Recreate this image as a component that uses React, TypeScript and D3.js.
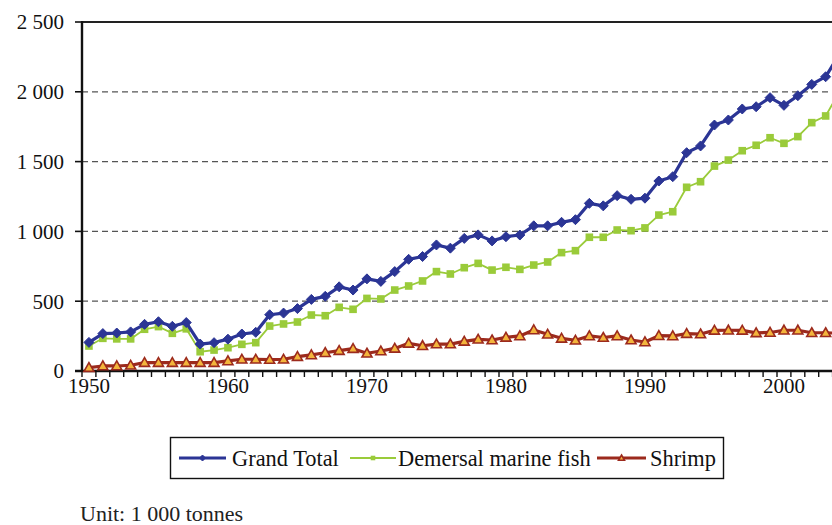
import React from "react";
import * as d3 from "d3";

const years: number[] = d3.range(1950, 2005);
const grandTotal: number[] = [
  205, 268, 272, 280, 334, 353, 320, 347, 193, 203,
  228, 265, 277, 403, 415, 447, 513, 535, 603, 580,
  660, 642, 712, 800, 820, 903, 880, 950, 975, 932,
  962, 974, 1040, 1040, 1065, 1084, 1201, 1183, 1256, 1230,
  1238, 1361, 1392, 1564, 1612, 1762, 1798, 1877, 1893, 1958,
  1903, 1972, 2053, 2108, 2270,
];
const demersal: number[] = [
  179, 234, 230, 230, 299, 318, 270, 302, 138, 150,
  167, 191, 203, 322, 337, 351, 401, 396, 456, 442,
  520, 516, 580, 609, 645, 712, 695, 740, 771, 723,
  743, 728, 759, 781, 848, 862, 958, 958, 1010, 1005,
  1025, 1117, 1141, 1316, 1356, 1468, 1511, 1578, 1617, 1671,
  1631, 1679, 1779, 1827, 2000,
];
const shrimp: number[] = [
  24, 36, 36, 41, 60, 60, 60, 60, 60, 60,
  72, 84, 84, 82, 84, 103, 115, 131, 146, 160,
  127, 143, 162, 198, 181, 193, 193, 212, 227, 222,
  241, 251, 294, 263, 234, 220, 251, 240, 251, 222,
  208, 253, 251, 268, 265, 291, 292, 291, 273, 276,
  292, 292, 274, 274, 270,
];
const yTicks: number[] = [0, 500, 1000, 1500, 2000, 2500];
const xLabelYears: number[] = [1950, 1960, 1970, 1980, 1990, 2000];
const seriesNames: string[] = ["Grand Total", "Demersal marine fish", "Shrimp"];

const W = 832;
const H = 525;
const left = 82;
const top = 22;
const bottom = 371;
const step = 13.9;
const right = left + step * years.length;

const BLUE = "#2b3595";
const GREEN = "#9acb3a";
const RED = "#9c2a1d";
const ORANGE = "#f3b53c";
const FONT = "'Liberation Serif', 'Times New Roman', serif";

const fmt = (v: number) => {
  const s = String(v);
  return s.length > 3 ? s.slice(0, s.length - 3) + " " + s.slice(-3) : s;
};

function Marker({ type, x, y, s = 1 }: { type: string; x: number; y: number; s?: number }) {
  if (type === "diamond") {
    const r = 5 * s;
    return <path d={`M${x},${y - r}L${x + r},${y}L${x},${y + r}L${x - r},${y}Z`} fill={BLUE} stroke={BLUE} strokeWidth={1} />;
  }
  if (type === "square") {
    const r = 3.8 * s;
    return <rect x={x - r} y={y - r} width={2 * r} height={2 * r} fill={GREEN} />;
  }
  const r = 5 * s;
  return (
    <path
      d={`M${x},${y - r}L${x + r},${y + r * 0.75}L${x - r},${y + r * 0.75}Z`}
      fill={ORANGE}
      stroke={RED}
      strokeWidth={1.6}
      strokeLinejoin="miter"
    />
  );
}

export default function App() {
  const x = d3.scaleBand<number>().domain(years).range([left, right]).padding(0);
  const cx = (yr: number) => (x(yr) as number) + x.bandwidth() / 2;
  const y = d3.scaleLinear().domain([0, 2500]).range([bottom, top]);

  const line = d3
    .line<number>()
    .x((_, i) => cx(years[i]))
    .y((v) => y(v));

  const series = [
    { name: seriesNames[0], data: grandTotal, color: BLUE, width: 3.2, marker: "diamond" },
    { name: seriesNames[1], data: demersal, color: GREEN, width: 1.8, marker: "square" },
    { name: seriesNames[2], data: shrimp, color: RED, width: 3.2, marker: "triangle" },
  ];
  const drawOrder = [series[2], series[1], series[0]];

  return (
    <svg width={W} height={H} style={{ position: "absolute", left: 0, top: 0, background: "#fff" }} fontFamily={FONT}>
      <rect x={0} y={0} width={W} height={H} fill="#fff" />
      {/* gridlines */}
      {yTicks.filter((t) => t > 0 && t < 2500).map((t) => (
        <line key={t} x1={left} x2={right} y1={y(t)} y2={y(t)} stroke="#555" strokeWidth={1.3} strokeDasharray="6 4" />
      ))}
      {/* top border */}
      <line x1={left} x2={right} y1={y(2500)} y2={y(2500)} stroke="#222" strokeWidth={2.2} />
      {/* y axis */}
      <line x1={left} x2={left} y1={top - 1} y2={bottom} stroke="#111" strokeWidth={2.4} />
      {yTicks.map((t) => (
        <g key={t}>
          <line x1={left - 7} x2={left} y1={y(t)} y2={y(t)} stroke="#111" strokeWidth={1.6} />
          <text x={64} y={y(t)} dy="0.35em" textAnchor="end" fontSize={21} fill="#111">
            {fmt(t)}
          </text>
        </g>
      ))}
      {/* x axis */}
      <line x1={left - 7} x2={right} y1={bottom} y2={bottom} stroke="#111" strokeWidth={2.4} />
      {years.map((yr) => (
        <line key={yr} x1={x(yr) as number} x2={x(yr) as number} y1={bottom} y2={bottom + 6} stroke="#111" strokeWidth={1.4} />
      ))}
      {xLabelYears.map((yr) => (
        <text key={yr} x={cx(yr)} y={393} textAnchor="middle" fontSize={21} fill="#111">
          {yr}
        </text>
      ))}
      {/* series */}
      {drawOrder.map((s) => (
        <g key={s.name}>
          <path d={line(s.data) || ""} fill="none" stroke={s.color} strokeWidth={s.width} strokeLinejoin="round" />
          {s.data.map((v, i) => (
            <Marker key={i} type={s.marker} x={cx(years[i])} y={y(v)} />
          ))}
        </g>
      ))}
      {/* legend */}
      <rect x={170.5} y={437.5} width={553} height={41} fill="#fff" stroke="#111" strokeWidth={1.4} />
      {[
        { s: series[0], x0: 179, x1: 226, tx: 232 },
        { s: series[1], x0: 350, x1: 396, tx: 398 },
        { s: series[2], x0: 597, x1: 646, tx: 650 },
      ].map(({ s, x0, x1, tx }) => (
        <g key={s.name}>
          <line x1={x0} x2={x1} y1={458} y2={458} stroke={s.color} strokeWidth={s.width} />
          <Marker type={s.marker} x={(x0 + x1) / 2} y={458} s={0.6} />
          <text x={tx} y={458} dy="0.35em" fontSize={22.4} fill="#111">
            {s.name}
          </text>
        </g>
      ))}
      <text x={80} y={513} dy="0.35em" fontSize={22} fill="#222">
        Unit: 1 000 tonnes
      </text>
    </svg>
  );
}
